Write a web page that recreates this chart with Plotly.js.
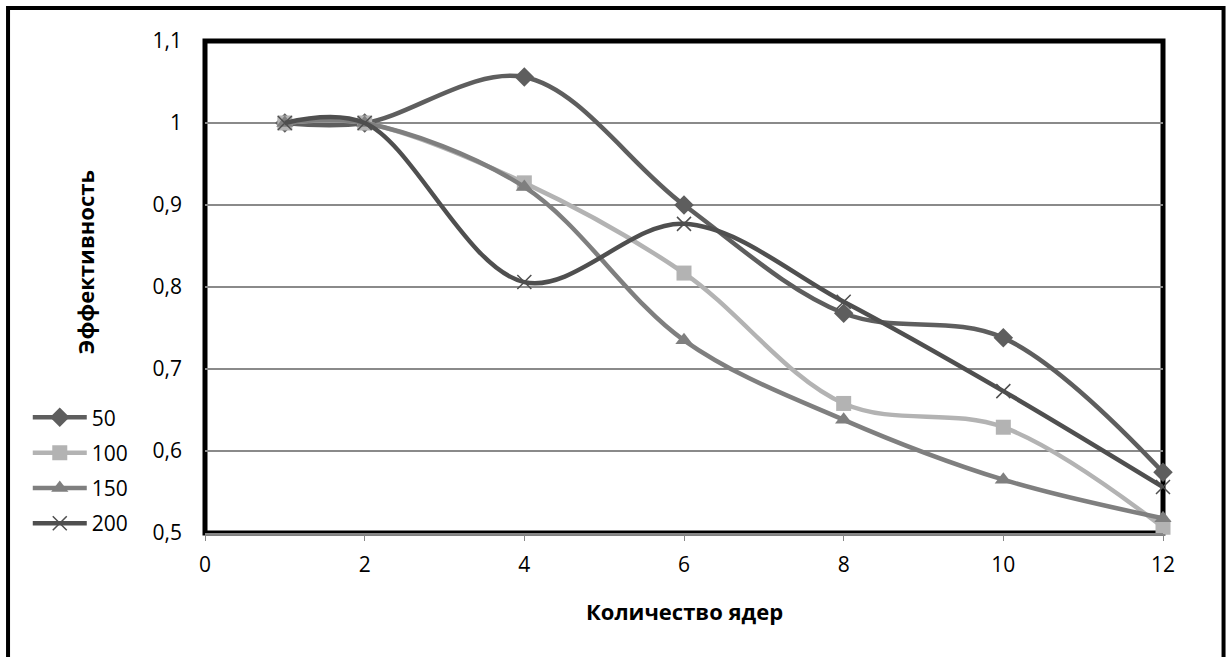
<!DOCTYPE html>
<html>
<head>
<meta charset="utf-8">
<script src="https://cdn.plot.ly/plotly-3.0.1.min.js"></script>
<style>html,body{margin:0;padding:0;background:#fff;}#chart{width:1232px;height:657px;}</style>
</head>
<body>
<div id="chart"></div>
<script>
const cores = [1, 2, 4, 6, 8, 10, 12];
const eff50  = [1, 1, 1.056, 0.900, 0.768, 0.738, 0.574];
const eff100 = [1, 1, 0.927, 0.817, 0.658, 0.629, 0.507];
const eff150 = [1, 1, 0.922, 0.735, 0.638, 0.565, 0.518];
const eff200 = [1, 1, 0.806, 0.877, 0.782, 0.673, 0.556];
const seriesNames = ['50', '100', '150', '200'];
const xTitle = 'Количество ядер';
const yTitle = 'Эффективность';

const FONT = 'Open Sans, Noto Sans, DejaVu Sans, sans-serif';

function mk(name, y, color, symbol, msize, mline) {
  return {
    x: cores, y: y, name: name, type: 'scatter', mode: 'lines+markers',
    legendgroup: 'g' + name,
    line: {color: color, width: 4.5, shape: 'spline', smoothing: 1},
    marker: {symbol: symbol, size: msize, color: color, line: mline || {width: 0}},
    cliponaxis: false
  };
}
const data = [
  mk(seriesNames[0], eff50, '#5e5e5e', 'diamond', 15),
  mk(seriesNames[1], eff100, '#b3b3b3', 'square', 15),
  mk(seriesNames[2], eff150, '#7f7f7f', 'triangle-up', 15),
  mk(seriesNames[3], eff200, '#4f4f4f', 'x-thin-open', 14, {width: 1.5, color: '#4f4f4f'})
];

const layout = {
  width: 1232, height: 657,
  margin: {l: 205, r: 69, t: 41, b: 124},
  paper_bgcolor: '#ffffff', plot_bgcolor: 'rgba(0,0,0,0)',
  separators: ', ',
  font: {family: FONT, size: 21, color: '#000'},
  showlegend: true,
  legend: {x: -0.185, xanchor: 'left', y: 0.276, yanchor: 'top',
           bgcolor: 'rgba(0,0,0,0)', font: {family: FONT, size: 21, color: '#000'},
           tracegroupgap: 5, itemwidth: 54},
  xaxis: {range: [0, 12], dtick: 2, tick0: 0, showgrid: false, zeroline: false,
          showline: true, linecolor: '#868686', linewidth: 2,
          ticks: 'outside', ticklen: 6, tickcolor: '#868686', tickwidth: 1,
          ticklabelstandoff: 6, tickfont: {family: FONT, size: 21}},
  yaxis: {range: [0.5, 1.1], dtick: 0.1, tick0: 0.5, showgrid: true,
          gridcolor: '#8a8a8a', gridwidth: 1.5, zeroline: false, showline: false,
          ticks: '', ticklabelstandoff: 22, tickfont: {family: FONT, size: 21}},
  annotations: [
    {text: '<b>' + xTitle + '</b>', xref: 'paper', yref: 'paper', x: 0.5, y: -0.159,
     xanchor: 'center', yanchor: 'middle', showarrow: false, font: {family: FONT, size: 22}},
    {text: '<b>' + yTitle + '</b>', xref: 'paper', yref: 'paper', x: -0.125, y: 0.551,
     xanchor: 'center', yanchor: 'middle', textangle: -90, showarrow: false, font: {family: FONT, size: 22}}
  ],
  shapes: [
    {type: 'rect', xref: 'paper', yref: 'paper', x0: 0, x1: 1, y0: 0, y1: 1,
     line: {color: '#000', width: 5}, layer: 'below'},
    {type: 'rect', xref: 'paper', yref: 'paper', x0: -0.2056, x1: 1.0632, y0: -0.3, y1: 1.067,
     line: {color: '#000', width: 4}, layer: 'below'}
  ]
};
Plotly.newPlot('chart', data, layout, {displayModeBar: false, staticPlot: true});
</script>
</body>
</html>
